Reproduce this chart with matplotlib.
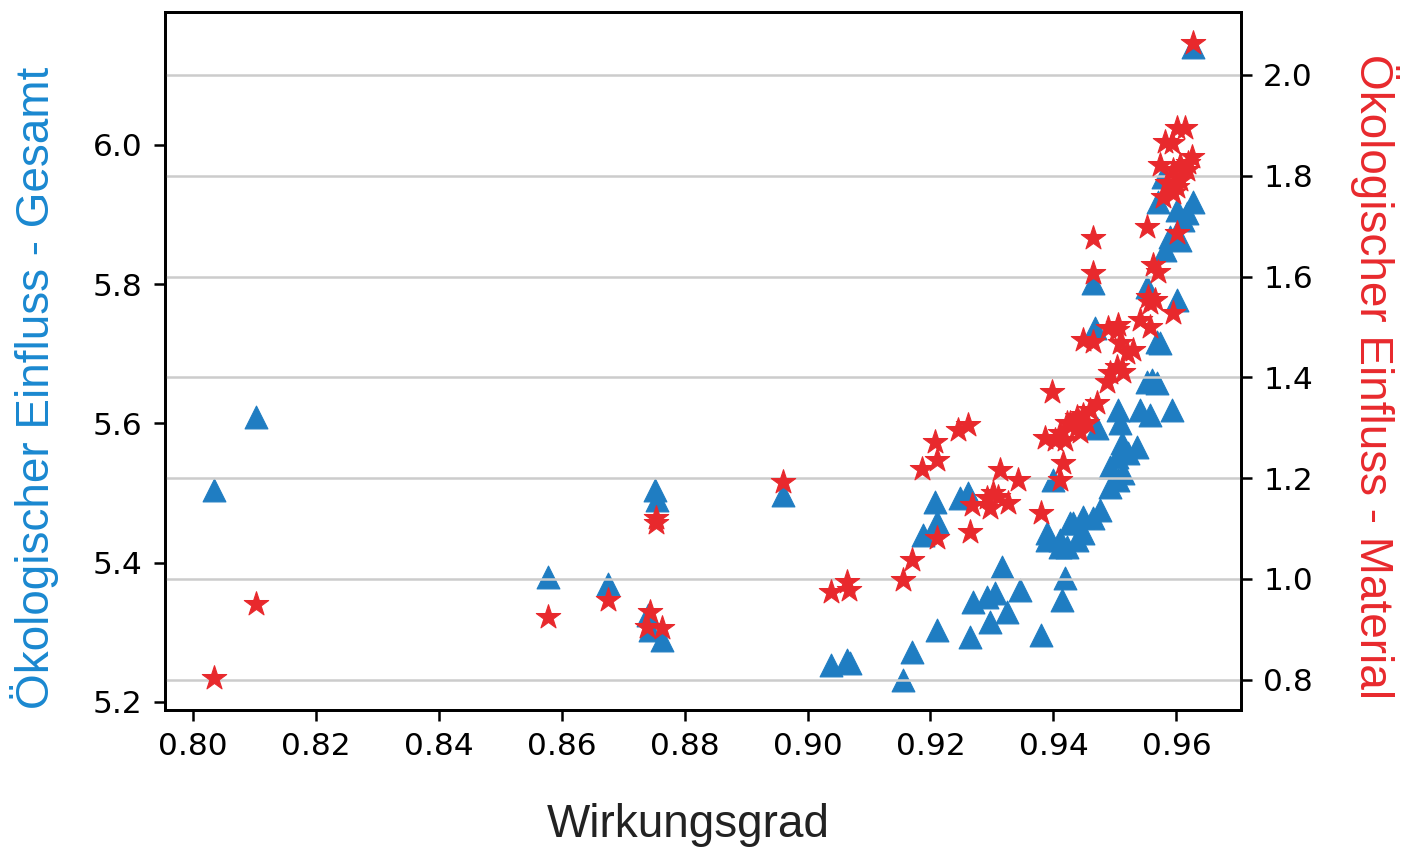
import numpy as np
import matplotlib
matplotlib.use("Agg")
import matplotlib.pyplot as plt

# Gesamt (left axis, blue triangles)
wg_gesamt = [0.8035, 0.8103, 0.8578, 0.8675, 0.8752, 0.8755, 0.8740, 0.8743, 0.8763,
             0.8960, 0.9038, 0.9064, 0.9069, 0.9156, 0.9170, 0.9211, 0.9264, 0.9269,
             0.9296, 0.9292, 0.9305, 0.9324, 0.9316, 0.9345, 0.9379, 0.9414, 0.9419,
             0.9390, 0.9411, 0.9422, 0.9427, 0.9188, 0.9211, 0.9207, 0.9248, 0.9261,
             0.9400, 0.9390, 0.9411, 0.9438, 0.9448, 0.9476, 0.9448, 0.9432, 0.9464,
             0.9492, 0.9492, 0.9513, 0.9505, 0.9511, 0.9536, 0.9521, 0.9503, 0.9471,
             0.9508, 0.9505, 0.9541, 0.9557, 0.9592, 0.9552, 0.9560, 0.9568, 0.9568,
             0.9573, 0.9468, 0.9464, 0.9552, 0.9601, 0.9581, 0.9589, 0.9605, 0.9601,
             0.9617, 0.9610, 0.9570, 0.9627, 0.9578, 0.9627]
gesamt = [5.504, 5.609, 5.379, 5.369, 5.504, 5.490, 5.325, 5.303, 5.289,
          5.497, 5.253, 5.260, 5.256, 5.231, 5.272, 5.303, 5.293, 5.343,
          5.315, 5.351, 5.356, 5.329, 5.394, 5.361, 5.296, 5.346, 5.378,
          5.432, 5.422, 5.422, 5.457, 5.440, 5.458, 5.487, 5.493, 5.500,
          5.519, 5.443, 5.433, 5.433, 5.443, 5.476, 5.466, 5.457, 5.464,
          5.509, 5.537, 5.529, 5.519, 5.572, 5.566, 5.557, 5.552, 5.593,
          5.601, 5.619, 5.619, 5.612, 5.619, 5.659, 5.662, 5.658, 5.717,
          5.716, 5.737, 5.802, 5.796, 5.777, 5.849, 5.868, 5.864, 5.907,
          5.902, 5.892, 5.918, 5.918, 5.954, 6.141]

# Material (right axis, red stars)
wg_material = [0.8035, 0.8103, 0.8578, 0.8675, 0.8743, 0.8739, 0.8764, 0.8753, 0.8753,
               0.8960, 0.9038, 0.9064, 0.9067, 0.9156, 0.9170, 0.9211, 0.9264, 0.9186,
               0.9211, 0.9207, 0.9245, 0.9261, 0.9267, 0.9296, 0.9301, 0.9292, 0.9309,
               0.9326, 0.9313, 0.9342, 0.9379, 0.9398, 0.9411, 0.9416, 0.9387, 0.9403,
               0.9419, 0.9422, 0.9438, 0.9471, 0.9460, 0.9448, 0.9427, 0.9438, 0.9411,
               0.9443, 0.9455, 0.9448, 0.9464, 0.9503, 0.9508, 0.9520, 0.9529, 0.9503,
               0.9492, 0.9513, 0.9487, 0.9557, 0.9594, 0.9541, 0.9557, 0.9464, 0.9464,
               0.9552, 0.9601, 0.9562, 0.9570, 0.9554, 0.9565, 0.9505, 0.9489, 0.9578,
               0.9594, 0.9584, 0.9601, 0.9605, 0.9573, 0.9605, 0.9594, 0.9617, 0.9625,
               0.9618, 0.9581, 0.9592, 0.9601, 0.9614, 0.9627]
material = [0.804, 0.951, 0.925, 0.958, 0.935, 0.905, 0.903, 1.121, 1.111,
            1.192, 0.974, 0.994, 0.978, 0.998, 1.038, 1.081, 1.093, 1.218,
            1.236, 1.272, 1.296, 1.306, 1.147, 1.141, 1.171, 1.161, 1.163,
            1.151, 1.216, 1.196, 1.131, 1.371, 1.196, 1.230, 1.280, 1.276,
            1.276, 1.310, 1.321, 1.349, 1.335, 1.325, 1.310, 1.302, 1.290,
            1.292, 1.310, 1.474, 1.470, 1.494, 1.468, 1.448, 1.454, 1.421,
            1.409, 1.411, 1.391, 1.548, 1.528, 1.514, 1.500, 1.677, 1.607,
            1.698, 1.687, 1.623, 1.609, 1.560, 1.554, 1.504, 1.498, 1.758,
            1.766, 1.786, 1.778, 1.792, 1.821, 1.821, 1.812, 1.812, 1.837,
            1.825, 1.867, 1.865, 1.895, 1.895, 2.063]

xticks = [0.80, 0.82, 0.84, 0.86, 0.88, 0.90, 0.92, 0.94, 0.96]
yticks_left = [5.2, 5.4, 5.6, 5.8, 6.0]
yticks_right = [0.8, 1.0, 1.2, 1.4, 1.6, 1.8, 2.0]

blue = '#1f7dc2'
red = '#e8292d'
label_font = 'Liberation Sans'

fig = plt.figure(figsize=(14.02, 8.49), dpi=100)
ax = fig.add_axes([165/1402, 1-710/849, (1241-165)/1402, (710-12)/849])
ax2 = ax.twinx()

ax.scatter(wg_gesamt, gesamt, marker='^', s=270, color=blue, linewidths=0.8, edgecolors=blue)
ax2.scatter(wg_material, material, marker='*', s=340, color=red, linewidths=0.8, edgecolors=red, zorder=3)

ax.set_xlim(0.7955, 0.9705)
ax.set_ylim(5.1885, 6.191)
ax2.set_ylim(0.740, 2.125)
ax.set_xticks(xticks)
ax.set_xticklabels(['%.2f' % v for v in xticks])
ax.set_yticks(yticks_left)
ax.set_yticklabels(['%.1f' % v for v in yticks_left])
ax2.set_yticks(yticks_right)
ax2.set_yticklabels(['%.1f' % v for v in yticks_right])

ax2.grid(axis='y', color='#cccccc', lw=1.8)

for a in (ax, ax2):
    a.tick_params(labelsize=22.5, length=8, width=1.8, pad=8)
    for sp in a.spines.values():
        sp.set_linewidth(2)

fig.text(35/1402, 1-388/849, 'Ökologischer Einfluss - Gesamt', rotation=90,
         ha='center', va='center', fontsize=33, color='#1a88d0', family=label_font)
fig.text(1375/1402, 1-377/849, 'Ökologischer Einfluss - Material', rotation=270,
         ha='center', va='center', fontsize=33, color=red, family=label_font)
fig.text(688/1402, 1-825/849, 'Wirkungsgrad', ha='center', va='center',
         fontsize=33, color='#222222', family=label_font)

fig.savefig('out.png', dpi=100)
